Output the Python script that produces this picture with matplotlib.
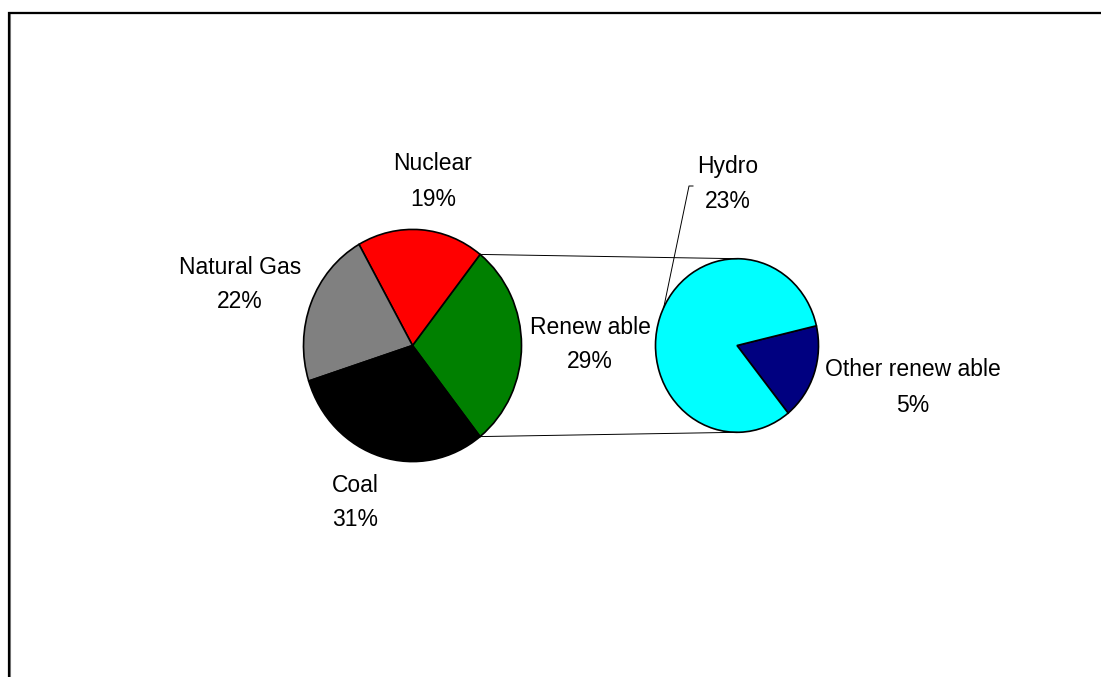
import numpy as np
import matplotlib.pyplot as plt

# main pie
sources = ['Renew able', 'Nuclear', 'Natural Gas', 'Coal']
shares = [29, 19, 22, 31]
colors = ['#008000', '#FF0000', '#808080', '#000000']

# breakdown of renewable
renew_parts = ['Other renew able', 'Hydro']
renew_shares = [5, 23]
renew_colors = ['#000080', '#00FFFF']

plt.rcParams['font.family'] = ['Liberation Sans', 'DejaVu Sans']

W, H = 1101, 677
sy = 1.065  # pies are drawn a little taller than wide

fig = plt.figure(figsize=(W / 100, H / 100), dpi=100)
ax = fig.add_axes([0, 0, 1, 1])


def Y(py):
    return (H - py) / sy


c1 = (412.5, Y(345.5))
r1 = 109
c2 = (737, Y(345.5))
r2 = 81.5

wp = dict(edgecolor='black', linewidth=1.2)
span = shares[0] / sum(shares) * 360
w1, _ = ax.pie(shares, colors=colors, center=c1, radius=r1,
               startangle=-span / 2, counterclock=True, wedgeprops=wp,
               frame=True)
span2 = renew_shares[0] / sum(renew_shares) * 360
w2, _ = ax.pie(renew_shares, colors=renew_colors, center=c2, radius=r2,
               startangle=-19 - span2 / 2, counterclock=True, wedgeprops=wp,
               frame=True)
ax.set_xlim(0, W)
ax.set_ylim(0, H / sy)
ax.set_aspect('auto')
ax.axis('off')


def edge(c, r, ang):
    a = np.radians(ang)
    return c[0] + r * np.cos(a), c[1] + r * np.sin(a)


# connector lines from the renewable wedge to the second pie
t1, t2 = w1[0].theta1, w1[0].theta2
p_top = edge(c1, r1, t2)
p_bot = edge(c1, r1, t1)
ax.plot([p_top[0], c2[0]], [p_top[1], c2[1] + r2], color='black', lw=0.7)
ax.plot([p_bot[0], c2[0]], [p_bot[1], c2[1] - r2], color='black', lw=0.7)

# leader line for Hydro
hp = edge(c2, r2, 154)
ax.plot([hp[0], 689, 693], [hp[1], Y(186), Y(186)], color='black', lw=0.7)

fs = 16.5
labels = [
    (sources[0], shares[0], 590, 328, 362),
    (sources[1], shares[1], 433, 164, 200),
    (sources[2], shares[2], 240, 268, 302),
    (sources[3], shares[3], 355, 485, 520),
    (renew_parts[1], renew_shares[1], 728, 167, 202),
    (renew_parts[0], renew_shares[0], 913, 369, 406),
]
for name, val, x, y1, y2 in labels:
    ax.text(x, Y(y1), name, ha='center', va='center', fontsize=fs)
    ax.text(x, Y(y2), f'{val}%', ha='center', va='center', fontsize=fs)

# outer frame (only left and top edges fall inside the image)
ax.plot([9.5, 9.5, W], [0, Y(13), Y(13)], color='#808080', lw=1.5,
        clip_on=False, solid_joinstyle='miter')
ax.plot([8.5, 8.5, W], [0, Y(12.5), Y(12.5)], color='black', lw=1.6,
        clip_on=False, solid_joinstyle='miter')

fig.savefig('out.png', dpi=100)
